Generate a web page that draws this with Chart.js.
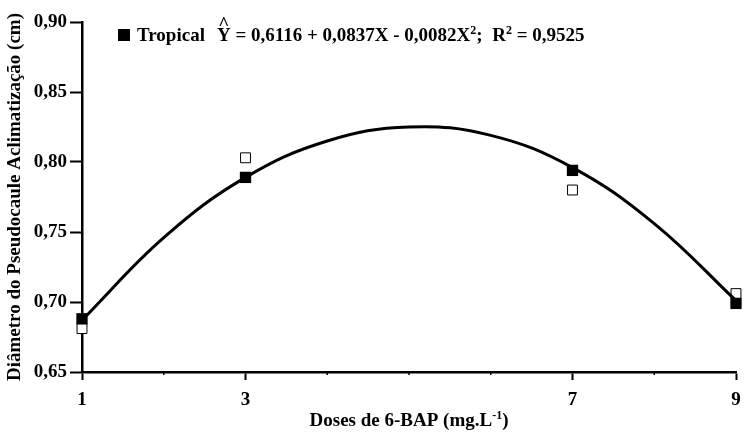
<!DOCTYPE html>
<html>
<head>
<meta charset="utf-8">
<script src="https://cdn.jsdelivr.net/npm/chart.js@4.4.0/dist/chart.umd.min.js"></script>
<style>
html, body { margin: 0; padding: 0; background: #fff; }
#wrap { width: 744px; height: 438px; }
</style>
</head>
<body>
<div id="wrap"><canvas id="chart" width="744" height="438"></canvas></div>
<script>
// values
const doses = [1, 3, 7, 9]
const fitted = [0.688, 0.789, 0.794, 0.699]
const observed = [0.681, 0.803, 0.780, 0.706]
// fitted curve, read at every dose
const curveX = [1, 2, 3, 4, 5, 6, 7, 8, 9]
const curveY = [0.687, 0.746, 0.789, 0.815, 0.825, 0.819, 0.796, 0.756, 0.701]
const xLabels = [1, 3, 7, 9]
const yMin = 0.65, yMax = 0.90, yStep = 0.05

const FONT = '"Liberation Serif", "Times New Roman", serif'
const FS = 19

const toPts = (xs, ys) => xs.map((x, i) => ({ x: x, y: ys[i] }))

// draws text pieces, some as superscript, returns end x
function richText(ctx, parts, x, y, size, measureOnly) {
    let cx = x
    for (const [t, sup] of parts) {
        ctx.font = 'bold ' + (sup ? Math.round(size * 0.62) : size) + 'px ' + FONT
        if (!measureOnly) ctx.fillText(t, cx, sup ? y - size * 0.38 : y)
        cx += ctx.measureText(t).width
    }
    return cx
}

const textPlugin = {
    id: 'texts',
    afterDraw(chart) {
        const ctx = chart.ctx
        const xs = chart.scales.x
        const area = chart.chartArea
        ctx.save()
        ctx.fillStyle = '#000'
        ctx.strokeStyle = '#000'
        ctx.textAlign = 'left'
        ctx.textBaseline = 'alphabetic'

        // small minor ticks on x axis
        ctx.lineWidth = 1.5
        curveX.forEach(v => {
            if (xLabels.includes(v)) return
            const px = xs.getPixelForValue(v)
            ctx.beginPath()
            ctx.moveTo(px, area.bottom)
            ctx.lineTo(px, area.bottom + 3)
            ctx.stroke()
        })

        // legend with equation
        ctx.fillRect(118, 29, 12, 12)
        richText(ctx, [['Tropical', false]], 137, 41, FS)
        const yStart = 217
        ctx.font = 'bold ' + FS + 'px ' + FONT
        const yW = ctx.measureText('Y').width
        ctx.textAlign = 'center'
        ctx.fillText('^', yStart + yW / 2, 30)
        ctx.textAlign = 'left'
        richText(ctx, [
            ['Y = 0,6116 + 0,0837X - 0,0082X', false], ['2', true], [';  R', false], ['2', true], [' = 0,9525', false]
        ], yStart, 41, FS)

        // x axis title
        const xParts = [['Doses de 6-BAP (mg.L', false], ['-1', true], [')', false]]
        const xw = richText(ctx, xParts, 0, 0, FS, true)
        const cx = (area.left + area.right) / 2
        richText(ctx, xParts, cx - xw / 2, 426, FS)

        // y axis title
        const yTitle = [['Diâmetro do Pseudocaule Aclimatização (cm)', false]]
        const yw = richText(ctx, yTitle, 0, 0, FS, true)
        ctx.translate(20, (area.top + area.bottom) / 2)
        ctx.rotate(-Math.PI / 2)
        richText(ctx, yTitle, -yw / 2, 0, FS)
        ctx.restore()
    }
}

const ctx = document.getElementById('chart').getContext('2d')
new Chart(ctx, {
    type: 'scatter',
    data: {
        datasets: [
            {
                label: 'Tropical',
                data: toPts(doses, fitted),
                pointStyle: 'rect',
                pointRadius: 8,
                pointBackgroundColor: '#000',
                pointBorderWidth: 0,
                clip: false,
                order: 0
            },
            {
                label: 'curve',
                data: toPts(curveX, curveY),
                showLine: true,
                borderColor: '#000',
                borderWidth: 3,
                tension: 0.4,
                pointRadius: 0,
                clip: false,
                order: 1
            },
            {
                label: 'observed',
                data: toPts(doses, observed),
                pointStyle: 'rect',
                pointRadius: 7,
                pointBackgroundColor: '#fff',
                pointBorderColor: '#000',
                pointBorderWidth: 1,
                clip: false,
                order: 2
            }
        ]
    },
    options: {
        responsive: false,
        devicePixelRatio: 1,
        animation: false,
        layout: { padding: { top: 22, right: 0, left: 0, bottom: 0 } },
        plugins: {
            legend: { display: false },
            tooltip: { enabled: false }
        },
        scales: {
            x: {
                type: 'linear',
                min: 1,
                max: 9,
                afterFit: s => { s.height = 66; s.paddingRight = 0; s.paddingLeft = 0 },
                ticks: {
                    stepSize: 1,
                    autoSkip: false,
                    maxRotation: 0,
                    padding: 9,
                    color: '#000',
                    font: { family: FONT, size: FS, weight: 'bold' },
                    callback: v => xLabels.includes(v) ? String(v) : ''
                },
                grid: {
                    drawOnChartArea: false,
                    tickLength: 8,
                    tickWidth: 2,
                    color: c => (c.tick && xLabels.includes(c.tick.value)) ? '#000' : 'rgba(0,0,0,0)'
                },
                border: { color: '#000', width: 2.5 }
            },
            y: {
                min: yMin,
                max: yMax,
                afterFit: s => { s.width = 82 },
                ticks: {
                    stepSize: yStep,
                    padding: 3,
                    color: '#000',
                    font: { family: FONT, size: FS, weight: 'bold' },
                    callback: v => v.toFixed(2).replace('.', ',')
                },
                grid: {
                    drawOnChartArea: false,
                    tickLength: 12,
                    tickWidth: 2,
                    color: '#000'
                },
                border: { color: '#000', width: 2.5 }
            }
        }
    },
    plugins: [textPlugin]
})
</script>
</body>
</html>
